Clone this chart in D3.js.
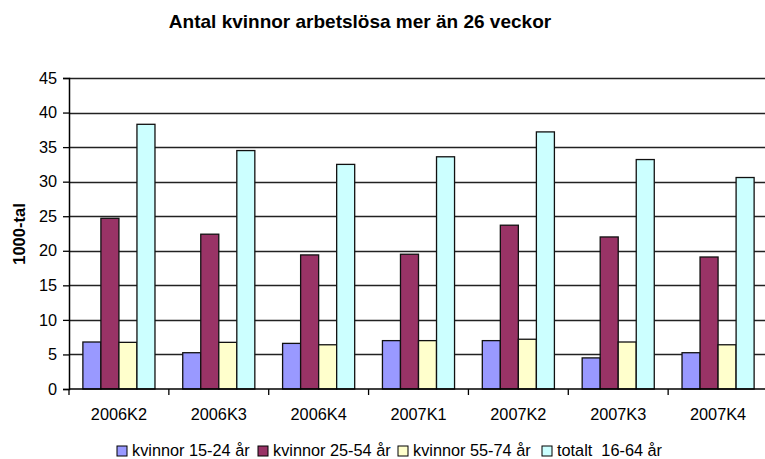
<!DOCTYPE html>
<html lang="sv">
<head>
<meta charset="UTF-8">
<title>Antal kvinnor arbetslösa mer än 26 veckor</title>
<script src="https://d3js.org/d3.v7.min.js"></script>
<style>
    body { margin: 0; background: #fff; }
    svg { display: block; font-family: "Liberation Sans", Arial, sans-serif; }
</style>
</head>
<body>
<script>
// data
const categories = ["2006K2", "2006K3", "2006K4", "2007K1", "2007K2", "2007K3", "2007K4"];
const seriesNames = ["kvinnor 15-24 år", "kvinnor 25-54 år", "kvinnor 55-74 år", "totalt  16-64 år"];
const kv1524 = [6.8, 5.25, 6.6, 7.0, 7.0, 4.5, 5.25];
const kv2554 = [24.7, 22.4, 19.4, 19.5, 23.7, 22.0, 19.1];
const kv5574 = [6.75, 6.75, 6.4, 7.0, 7.2, 6.8, 6.4];
const tot1664 = [38.3, 34.5, 32.5, 33.6, 37.2, 33.2, 30.6];
const yTicks = [0, 5, 10, 15, 20, 25, 30, 35, 40, 45];
const colors = ["#9999FF", "#993366", "#FFFFCC", "#CCFFFF"];

const values = [kv1524, kv2554, kv5574, tot1664];

const w = 765, h = 459;
const plotLeft = 69, plotRight = 768, plotTop = 78, plotBottom = 389;
const fs = "16.3px";

const svg = d3.select("body").append("svg")
    .attr("width", w)
    .attr("height", h);

// scales
const x0 = d3.scaleBand().domain(categories).range([plotLeft, plotRight]).padding(0);
const x1 = d3.scaleBand().domain(d3.range(seriesNames.length))
    .range([0, x0.bandwidth()]).paddingInner(0).paddingOuter(0.77);
const y = d3.scaleLinear().domain([0, 45]).range([plotBottom, plotTop]);

// gridlines
svg.append("g")
    .selectAll("line")
    .data(yTicks.filter(d => d > 0))
    .enter()
    .append("line")
    .attr("x1", plotLeft)
    .attr("x2", plotRight)
    .attr("y1", d => Math.round(y(d)) + 0.5)
    .attr("y2", d => Math.round(y(d)) + 0.5)
    .attr("stroke", "#222")
    .attr("stroke-width", 1.3);

// bars
const groups = svg.append("g")
    .selectAll("g")
    .data(categories)
    .enter()
    .append("g")
    .attr("transform", d => `translate(${x0(d)},0)`);

groups.selectAll("rect")
    .data((d, i) => values.map((s, j) => ({ s: j, v: s[i] })))
    .enter()
    .append("rect")
    .attr("x", d => x1(d.s))
    .attr("y", d => y(d.v))
    .attr("width", x1.bandwidth())
    .attr("height", d => y(0) - y(d.v))
    .attr("fill", d => colors[d.s])
    .attr("stroke", "#111")
    .attr("stroke-width", 1.3);

// y axis
const yAxis = d3.axisLeft(y).tickValues(yTicks).tickSize(6).tickPadding(6);
const gy = svg.append("g")
    .attr("transform", `translate(${plotLeft},0)`)
    .call(yAxis);
gy.select(".domain").attr("stroke", "#000").attr("stroke-width", 1.5);
gy.selectAll(".tick line").attr("stroke", "#000").attr("stroke-width", 1.3);
gy.selectAll(".tick text")
    .style("font-size", fs)
    .style("font-family", "'Liberation Sans', Arial, sans-serif")
    .attr("fill", "#000");

// x axis: ticks at category boundaries
const gx = svg.append("g")
    .attr("transform", `translate(0,${plotBottom})`);
gx.append("line")
    .attr("x1", plotLeft).attr("x2", plotRight)
    .attr("y1", 0).attr("y2", 0)
    .attr("stroke", "#000").attr("stroke-width", 1.5);
gx.selectAll("line.tk")
    .data(categories)
    .enter()
    .append("line")
    .attr("class", "tk")
    .attr("x1", d => x0(d)).attr("x2", d => x0(d))
    .attr("y1", 0).attr("y2", 6)
    .attr("stroke", "#000").attr("stroke-width", 1.3);
gx.selectAll("text")
    .data(categories)
    .enter()
    .append("text")
    .attr("x", d => x0(d) + x0.bandwidth() / 2)
    .attr("y", 31)
    .attr("text-anchor", "middle")
    .style("font-size", fs)
    .text(d => d);

// title
svg.append("text")
    .attr("x", 360)
    .attr("y", 28)
    .attr("text-anchor", "middle")
    .style("font-size", "19px")
    .style("font-weight", "bold")
    .text("Antal kvinnor arbetslösa mer än 26 veckor");

// y label
svg.append("text")
    .attr("transform", "translate(25,234) rotate(-90)")
    .attr("text-anchor", "middle")
    .style("font-size", "16.5px")
    .style("font-weight", "bold")
    .text("1000-tal");

// legend
const legendX = [117, 258, 398, 542];
const legend = svg.append("g")
    .selectAll("g")
    .data(seriesNames)
    .enter()
    .append("g")
    .attr("transform", (d, i) => `translate(${legendX[i]},446)`);
legend.append("rect")
    .attr("width", 10)
    .attr("height", 10)
    .attr("fill", (d, i) => colors[i])
    .attr("stroke", "#000")
    .attr("stroke-width", 1);
legend.append("text")
    .attr("x", 15)
    .attr("y", 10)
    .style("font-size", fs)
    .style("white-space", "pre")
    .text(d => d);
</script>
</body>
</html>
